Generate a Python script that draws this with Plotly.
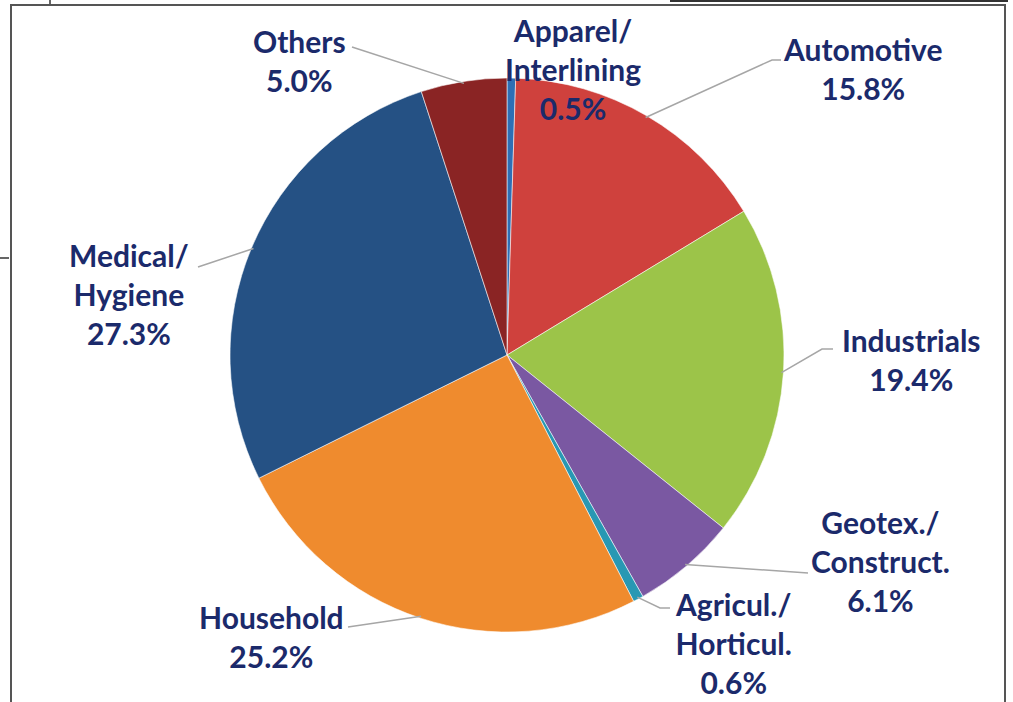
import math
import plotly.graph_objects as go

# ---- data ----
categories = ["Apparel/<br>Interlining", "Automotive", "Industrials", "Geotex./<br>Construct.",
              "Agricul./<br>Horticul.", "Household", "Medical/<br>Hygiene", "Others"]
shares = [0.5, 15.8, 19.4, 6.1, 0.6, 25.2, 27.3, 5.0]
colors = ["#2e6fb5", "#cf413d", "#9cc449", "#7a58a2", "#2898b3", "#ef8b2e", "#255184", "#8a2424"]

# ---- layout (pixels) ----
W, H = 1013, 702
CX, CY, R = 507, 355, 277
TEXT_COLOR = "#1b2a6b"

# label centres (px) and leader-line elbow points (px) per slice
label_pos = [(573, 69), (862, 69), (911, 360), (880, 561), (733, 643), (271, 636), (129, 294), (299, 60)]
leader_pts = [
    [],
    [(772, 60), (781, 60)],
    [(822, 349), (833, 349)],
    [(808, 573)],
    [(660, 608), (670, 608)],
    [(348, 627)],
    [(198, 267)],
    [(352, 47)],
]


def px(x):
    return x / W


def py(y):
    return 1 - y / H


fig = go.Figure(go.Pie(
    labels=[c.replace("<br>", " ") for c in categories],
    values=shares,
    sort=False,
    direction="clockwise",
    rotation=0,
    marker=dict(colors=colors, line=dict(color="rgba(255,255,255,0.55)", width=1)),
    textinfo="none",
    hoverinfo="label+percent",
    showlegend=False,
    domain=dict(x=[px(CX - R), px(CX + R)], y=[py(CY + R), py(CY - R)]),
))

shapes = []
annotations = []
total = sum(shares)
cum = 0.0
for i, (cat, v) in enumerate(zip(categories, shares)):
    mid = 2 * math.pi * (cum + v / 2) / total
    cum += v
    ex = CX + (R - 2) * math.sin(mid)
    ey = CY - (R - 2) * math.cos(mid)
    pts = [(ex, ey)] + leader_pts[i]
    if len(pts) > 1:
        path = "M " + " L ".join(f"{px(x):.5f},{py(y):.5f}" for x, y in pts)
        shapes.append(dict(type="path", xref="paper", yref="paper", path=path,
                           line=dict(color="#a6a6a6", width=1.5)))
    lx, ly = label_pos[i]
    annotations.append(dict(
        x=px(lx), y=py(ly), xref="paper", yref="paper",
        text=f"<b>{cat}<br>{v:.1f}%</b>", showarrow=False,
        xanchor="center", yanchor="middle", align="center",
        font=dict(family="Lato, 'Open Sans', sans-serif", size=30, color=TEXT_COLOR),
    ))

# frame
frame_col = "#555555"
shapes.append(dict(type="path", xref="paper", yref="paper",
                   path=f"M {px(11)},{py(H + 5)} L {px(11)},{py(5)} L {px(1005)},{py(5)} L {px(1005)},{py(H + 5)}",
                   line=dict(color=frame_col, width=2)))
shapes.append(dict(type="line", xref="paper", yref="paper", x0=px(0), x1=px(9), y0=py(258), y1=py(258),
                   line=dict(color="#333333", width=1.5)))
shapes.append(dict(type="line", xref="paper", yref="paper", x0=px(50), x1=px(50), y0=py(0), y1=py(4),
                   line=dict(color="#333333", width=1.5)))
shapes.append(dict(type="line", xref="paper", yref="paper", x0=px(670), x1=px(1008), y0=py(1), y1=py(1),
                   line=dict(color="#333333", width=2)))

fig.update_layout(
    width=W, height=H, autosize=False,
    margin=dict(l=0, r=0, t=0, b=0),
    paper_bgcolor="white", plot_bgcolor="white",
    shapes=shapes, annotations=annotations,
)

fig.write_html("out.html", config={"displayModeBar": False},
               post_script="document.body.style.margin='0';document.body.style.overflow='hidden';")
